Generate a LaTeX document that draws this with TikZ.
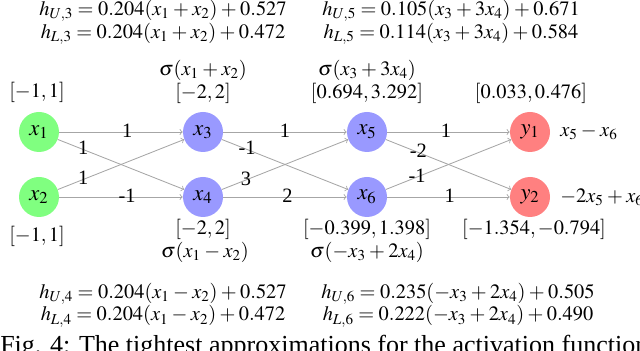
\documentclass[tikz,border=0pt]{standalone}
\usepackage{mathptmx}
\usepackage{fontspec}
\setmainfont{Liberation Serif}
\usetikzlibrary{positioning}
\newcommand{\netfont}{\fontsize{14.5}{12.3}\selectfont\thickmuskip=4mu\medmuskip=3mu}
\newcommand{\nodefont}{\fontsize{16}{18}\selectfont}
\newcommand{\capfont}{\fontsize{18.5}{20}\selectfont}

\begin{document}
\begin{tikzpicture}[>=to]
    \tikzset{
      nn/.style={circle,minimum size=1cm,inner sep=0pt,font=\nodefont},
      inp/.style={nn,fill=green!50},
      hid/.style={nn,fill=blue!40},
      outp/.style={nn,fill=red!50},
      ar/.style={->,draw=gray!70,line width=0.6pt},
      wt/.style={inner sep=0pt,font=\netfont},
      txt/.style={inner sep=0pt,font=\netfont},
      eq/.style={txt,align=center}}
    \useasboundingbox (0,0) rectangle (16,8.75);
    \node[inp] (x1) at (0.975,5.45)  {$x_1$};
    \node[inp] (x2) at (0.975,3.825) {$x_2$};
    \node[hid] (x3) at (5.075,5.45)  {$x_3$};
    \node[hid] (x4) at (5.075,3.825) {$x_4$};
    \node[hid] (x5) at (9.175,5.45)  {$x_5$};
    \node[hid] (x6) at (9.175,3.825) {$x_6$};
    \node[outp] (y1) at (13.25,5.45)  {$y_1$};
    \node[outp] (y2) at (13.25,3.825) {$y_2$};
    \foreach \a/\b/\w/\p in {x1/x3/1/0.55,x1/x4/1/0.2,x2/x3/1/0.2,x2/x4/-1/0.55,
                             x3/x5/1/0.5,x3/x6/-1/0.2,x4/x5/3/0.19,x4/x6/2/0.52,
                             x5/y1/1/0.48,x5/y2/-2/0.26,x6/y1/-1/0.25,x6/y2/1/0.51}
      \draw[ar] (\a) -- node[wt,pos=\p,yshift=1pt] (w\a\b) {\w} (\b);
    \node[txt] (r1) at (0.925,6.45) {$[-1, 1]$};
    \node[txt] (r2) at (0.925,2.85)  {$[-1, 1]$};
    \node[txt] (s3) at (5.075,6.99)  {$\sigma(x_1 + x_2)$};
    \node[txt] (r3) at (5.075,6.42) {$[-2, 2]$};
    \node[txt] (r4) at (5.075,3.025) {$[-2, 2]$};
    \node[txt] (s4) at (5.125,2.45) {$\sigma(x_1 - x_2)$};
    \node[txt] (s5) at (9.175,6.99)  {$\sigma(x_3 + 3x_4)$};
    \node[txt] (r5) at (9.175,6.42) {$[0.694, 3.292]$};
    \node[txt] (r6) at (9.175,3.025) {$[-0.399, 1.398]$};
    \node[txt] (s6) at (9.175,2.45) {$\sigma(-x_3 + 2x_4)$};
    \node[txt] (ry1) at (13.275,6.42) {$[0.033, 0.476]$};
    \node[txt] (ry2) at (13.35,3.025)  {$[-1.354, -0.794]$};
    \node[txt,anchor=west] (o1) at (14.0,5.45)  {$x_5 - x_6$};
    \node[txt,anchor=west] (o2) at (14.0,3.825) {$-2x_5 + x_6$};
    \node[eq] (h3) at (4.075,8.19) {$h_{U,3} = 0.204(x_1 + x_2) + 0.527$\\$h_{L,3} = 0.204(x_1 + x_2) + 0.472$};
    \node[eq] (h5) at (11.275,8.19) {$h_{U,5} = 0.105(x_3 + 3x_4) + 0.671$\\$h_{L,5} = 0.114(x_3 + 3x_4) + 0.584$};
    \node[eq] (h4) at (4.075,1.125) {$h_{U,4} = 0.204(x_1 - x_2) + 0.527$\\$h_{L,4} = 0.204(x_1 - x_2) + 0.472$};
    \node[eq] (h6) at (11.45,1.125) {$h_{U,6} = 0.235(-x_3 + 2x_4) + 0.505$\\$h_{L,6} = 0.222(-x_3 + 2x_4) + 0.490$};
    \node[txt,font=\capfont,anchor=base west] (cap) at (0,-0.075) {Fig. 4: The tightest approximations for the activation function};
\end{tikzpicture}
\end{document}
